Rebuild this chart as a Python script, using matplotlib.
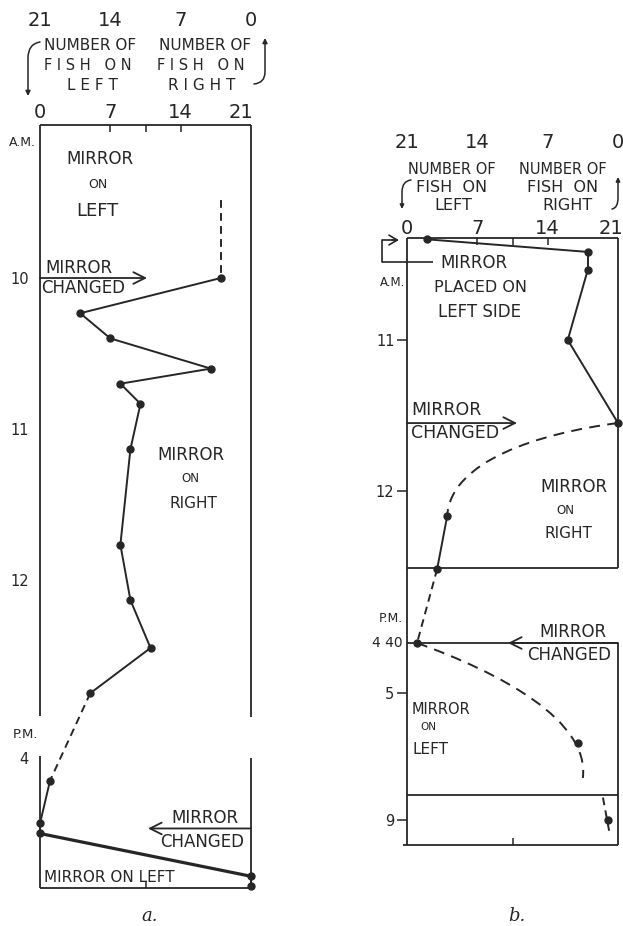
import numpy as np
import matplotlib
matplotlib.use("Agg")
import matplotlib.pyplot as plt
from matplotlib.path import Path
from matplotlib.patches import FancyArrowPatch
from matplotlib.ticker import FixedLocator, NullLocator
from matplotlib.transforms import blended_transform_factory

# ------------------------------------------------------------------ data
# panel a: observation times and number of fish (of 21) on the LEFT side
a_times = ["10:00", "10:14", "10:24", "10:36", "10:42", "10:50", "11:08", "11:46",
           "12:08", "12:27", "12:45", "16:09", "16:26", "16:30", "16:47", "16:51"]
a_fish_left = [18, 4, 7, 17, 8, 10, 9, 8, 9, 11, 5, 1, 0, 0, 21, 21]
# style of the link from each point to the next one
a_links = ["-", "-", "-", "-", "-", "-", "-", "-", "-", "-", "--", "-", "-", "=", "-"]
a_lead_in = ["09:29", "10:00"]          # dashed lead-in above the first point

# panel b
b_times = ["10:20", "10:25", "10:32", "11:00", "11:33", "12:10", "12:31", "16:40", "17:20", "09:00"]
b_day = [0, 0, 0, 0, 0, 0, 0, 0, 0, 1]
b_fish_left = [2, 18, 18, 16, 21, 4, 3, 1, 17, 20]
b_links = ["-", "-", "-", "-", "curve1", "-", "--", "curve2", None]
# hand-drawn guide curves (x = fish on left, y = time)
b_curve1_x = [21, 13.2, 4.3, 4]
b_curve1_t = ["11:33", "11:37", "11:48", "12:10"]
b_curve2_x = [1, 9.3, 18.2, 17.5]
b_curve2_t = ["16:40", "16:52", "17:11", "17:34"]
b_last_x = [19.5, 20.2]
b_last_t = ["08:51", "09:06"]

scale_fish_right = ["21", "14", "7", "0"]
scale_fish_left = ["0", "7", "14", "21"]
a_hour_ticks = ["10:00", "11:00", "12:00", "16:00"]
a_hour_labels = ["10", "11", "12", "4"]
b_hour_ticks = ["11:00", "12:00", "17:00", "09:00"]
b_hour_days = [0, 0, 0, 1]
b_hour_labels = ["11", "12", "5", "9"]


def hrs(s, day=0):
    h, m = s.split(":")
    return int(h) + int(m) / 60.0 + 24 * day


# ------------------------------------------------------------------ figure
W, H = 623, 926
fig = plt.figure(figsize=(W / 100, H / 100), dpi=100)
fig.patch.set_facecolor("white")
INK = "#262626"
plt.rcParams["font.family"] = ["DejaVu Sans"]


def fx(x):
    return x / W


def fy(y):
    return 1 - y / H


def ftext(x, y, s, size, ha="center", va="center", **kw):
    fig.text(fx(x), fy(y), s, fontsize=size, ha=ha, va=va, color=INK, **kw)


def fig_arrow(pts, head="-|>", ms=7, lw=1.1):
    verts = [(fx(x), fy(y)) for x, y in pts]
    codes = [Path.MOVETO, Path.CURVE3, Path.CURVE3] + [Path.LINETO] * (len(pts) - 3)
    p = FancyArrowPatch(path=Path(verts, codes), arrowstyle=head, mutation_scale=ms,
                        lw=lw, color=INK, transform=fig.transFigure)
    fig.add_artist(p)


DASH = (4, 2.7)
LW = 1.4

# ------------------------------------------------------------------ panel a
ax_a = fig.add_axes([fx(40), fy(888), (251 - 40) / W, (888 - 125) / H])
A_T = [8, 13, 16, 18]
A_Y = [-24, 731, 758, 1060]
ax_a.set_yscale("function", functions=(lambda t: np.interp(t, A_T, A_Y),
                                       lambda y: np.interp(y, A_Y, A_T)))
ta_top = float(np.interp(125, A_Y, A_T))
ta_bot = float(np.interp(888, A_Y, A_T))
ax_a.set_xlim(0, 21)
ax_a.set_ylim(ta_bot, ta_top)

# panel b
ax_b = fig.add_axes([fx(407), fy(845), (618 - 407) / W, (845 - 238) / H])
B_T = [9, 12.6, 16.667, 17.6, 32.8, 34]
B_Y = [38, 581.6, 643, 783, 790, 971]
ax_b.set_yscale("function", functions=(lambda t: np.interp(t, B_T, B_Y),
                                       lambda y: np.interp(y, B_Y, B_T)))
tb_top = float(np.interp(238, B_Y, B_T))
tb_bot = float(np.interp(845, B_Y, B_T))
ax_b.set_xlim(0, 21)
ax_b.set_ylim(tb_bot, tb_top)

for ax in (ax_a, ax_b):
    for s in ax.spines.values():
        s.set_visible(False)
    ax.patch.set_alpha(0)
    ax.xaxis.set_major_locator(FixedLocator([7, 14]))
    ax.xaxis.set_minor_locator(FixedLocator([10.5]))
    ax.tick_params(axis="x", which="major", top=True, bottom=False, direction="in",
                   length=5, width=1.1, color=INK, labeltop=False, labelbottom=False)
    ax.tick_params(axis="x", which="minor", top=True, bottom=True, direction="in",
                   length=5, width=1.1, color=INK, labeltop=False, labelbottom=False)
    ax.yaxis.set_minor_locator(NullLocator())


def seg(ax, xs, ts, **kw):
    ax.plot(xs, ts, color=INK, clip_on=False, solid_capstyle="butt", **kw)


# box of panel a (sides broken between noon and 4 p.m.)
bk = dict(lw=1.3)
seg(ax_a, [0, 21], [ta_top, ta_top], **bk)
seg(ax_a, [0, 21], [ta_bot, ta_bot], **bk)
seg(ax_a, [0, 0], [ta_top, 12.90], **bk)
seg(ax_a, [0, 0], [15.78, ta_bot], **bk)
seg(ax_a, [21, 21], [ta_top, 12.91], **bk)
seg(ax_a, [21, 21], [16.0, ta_bot], **bk)

# box of panel b
t_sep1 = 12.51
t_sep2 = hrs("16:40")
t_sep3 = 32.833
seg(ax_b, [0, 21], [tb_top, tb_top], **bk)
seg(ax_b, [-0.4, 21], [tb_bot, tb_bot], **bk)
seg(ax_b, [0, 0], [tb_top, tb_bot], **bk)
seg(ax_b, [21, 21], [tb_top, t_sep1], **bk)
seg(ax_b, [21, 21], [t_sep2, tb_bot], **bk)
seg(ax_b, [0, 21], [t_sep1, t_sep1], **bk)
seg(ax_b, [0, 21], [t_sep2, t_sep2], **bk)
seg(ax_b, [0, 21], [t_sep3, t_sep3], **bk)

# ---------------- data lines panel a
ta = [hrs(s) for s in a_times]
seg(ax_a, [a_fish_left[0]] * 2, [hrs(s) for s in a_lead_in], lw=LW, dashes=DASH)
for i, st in enumerate(a_links):
    xs = [a_fish_left[i], a_fish_left[i + 1]]
    ts = [ta[i], ta[i + 1]]
    if st == "--":
        seg(ax_a, xs, ts, lw=LW, dashes=DASH)
    elif st == "=":
        seg(ax_a, xs, ts, lw=2.3)
    else:
        seg(ax_a, xs, ts, lw=LW)
ax_a.plot(a_fish_left, ta, "o", color=INK, ms=5, clip_on=False, zorder=5)

# ---------------- data lines panel b
tb = [hrs(s, d) for s, d in zip(b_times, b_day)]


def bezier(ax, xs, ts):
    verts = list(zip(xs, ts))
    p = Path(verts, [Path.MOVETO, Path.CURVE4, Path.CURVE4, Path.CURVE4])
    from matplotlib.patches import PathPatch
    pp = PathPatch(p, fill=False, edgecolor=INK, lw=LW, linestyle=(0, (DASH[0] * LW, DASH[1] * LW)),
                   clip_on=False, transform=ax.transData)
    ax.add_patch(pp)


for i, st in enumerate(b_links):
    xs = [b_fish_left[i], b_fish_left[i + 1]]
    ts = [tb[i], tb[i + 1]]
    if st == "-":
        seg(ax_b, xs, ts, lw=LW)
    elif st == "--":
        seg(ax_b, xs, ts, lw=LW, dashes=DASH)
    elif st == "curve1":
        bezier(ax_b, b_curve1_x, [hrs(s) for s in b_curve1_t])
    elif st == "curve2":
        bezier(ax_b, b_curve2_x, [hrs(s) for s in b_curve2_t])
seg(ax_b, b_last_x, [hrs(s, 1) for s in b_last_t], lw=LW, dashes=DASH)
ax_b.plot(b_fish_left, tb, "o", color=INK, ms=5, clip_on=False, zorder=5)

# ---------------- time axes
ax_a.set_yticks([hrs(s) for s in a_hour_ticks])
ax_a.set_yticklabels(a_hour_labels)
ax_a.tick_params(axis="y", length=0, pad=8, labelsize=10.5, labelcolor=INK)
ax_b.set_yticks([hrs(s, d) for s, d in zip(b_hour_ticks, b_hour_days)])
ax_b.set_yticklabels(b_hour_labels)
ax_b.tick_params(axis="y", direction="out", length=7, width=1.1, color=INK,
                 pad=2, labelsize=10.5, labelcolor=INK)

ftext(22, 142, "A.M.", 9)
ftext(25, 734, "P.M.", 9.5)
ftext(393, 282, "A.M.", 8.5)
ftext(391, 619, "P.M.", 9)
ftext(403, 643, "4 40", 10, ha="right")

# ---------------- fish scales
for ax, ytop, ybot, right21 in ((ax_a, 21, 113, 21.25), (ax_b, 143, 228, 21.5)):
    tr = blended_transform_factory(ax.transData, fig.transFigure)
    for lab in scale_fish_right:
        ax.text(21 - int(lab), fy(ytop), lab, transform=tr, ha="center", va="center",
                fontsize=14, color=INK, clip_on=False)
    for lab in scale_fish_left:
        v = int(lab)
        if v == 21:
            ax.text(right21, fy(ybot), lab, transform=tr, ha="right", va="center",
                    fontsize=14, color=INK, clip_on=False)
        else:
            ax.text(v, fy(ybot), lab, transform=tr, ha="center", va="center",
                    fontsize=14, color=INK, clip_on=False)

# headers
ftext(90, 45, "NUMBER OF", 11)
ftext(205, 45, "NUMBER OF", 11)
ftext(88, 65, "F I S H   O N", 10.5)
ftext(201, 65, "F I S H   O N", 10.5)
ftext(92, 85, "L E F T", 11)
ftext(202, 85, "R I G H T", 11)
fig_arrow([(40, 42), (28, 44), (28, 58), (28, 96)])
fig_arrow([(254, 84), (265, 83), (265, 72), (265, 38)])

ftext(452, 170, "NUMBER OF", 10.5)
ftext(563, 170, "NUMBER OF", 10.5)
ftext(452, 188, "FISH  ON", 11.5)
ftext(563, 188, "FISH  ON", 11.5)
ftext(453, 206, "LEFT", 11.5)
ftext(568, 206, "RIGHT", 11.5)
fig_arrow([(411, 180), (402, 181), (402, 192), (402, 209)], ms=6)
fig_arrow([(612, 209), (618, 208), (618, 198), (618, 177)], ms=6)

# ---------------- annotations panel a
ftext(100, 159, "MIRROR", 12)
ftext(98, 185, "ON", 9)
ftext(97, 211, "LEFT", 13)
ftext(45, 268, "MIRROR", 12, ha="left")
ftext(41, 288, "CHANGED", 12, ha="left")
arr = dict(arrowstyle="->,head_length=0.7,head_width=0.35", lw=1.3, color=INK,
           shrinkA=0, shrinkB=0, mutation_scale=12)
ax_a.annotate("", xy=(10.65, hrs("10:00")), xytext=(0, hrs("10:00")),
              arrowprops=arr, annotation_clip=False)
ftext(191, 455, "MIRROR", 12)
ftext(190, 479, "ON", 8.5)
ftext(193, 504, "RIGHT", 11)
ftext(205, 818, "MIRROR", 12)
ftext(202, 842, "CHANGED", 12)
ax_a.annotate("", xy=(10.75, hrs("16:28")), xytext=(21, hrs("16:28")),
              arrowprops=arr, annotation_clip=False)
ftext(44, 877, "MIRROR ON LEFT", 11, ha="left")

# ---------------- annotations panel b
ftext(474, 263, "MIRROR", 12)
ftext(480, 288, "PLACED ON", 11.5)
ftext(480, 312, "LEFT SIDE", 12)
seg(ax_b, [2.6, -2.5, -2.5, -1.2], [10.483, 10.483, 10.338, 10.338], lw=1.2)
ax_b.annotate("", xy=(-0.8, 10.338), xytext=(-1.5, 10.338),
              arrowprops=dict(arrowstyle="->,head_length=0.6,head_width=0.35", lw=1.2,
                              color=INK, shrinkA=0, shrinkB=0, mutation_scale=10),
              annotation_clip=False)
ftext(411, 410, "MIRROR", 12.5, ha="left")
ftext(411, 433, "CHANGED", 12.5, ha="left")
ax_b.annotate("", xy=(10.95, hrs("11:33")), xytext=(0, hrs("11:33")),
              arrowprops=arr, annotation_clip=False)
ftext(574, 487, "MIRROR", 12)
ftext(565, 510, "ON", 8.5)
ftext(568, 533, "RIGHT", 11)
ftext(573, 632, "MIRROR", 12)
ftext(569, 655, "CHANGED", 12)
ax_b.annotate("", xy=(10.05, t_sep2), xytext=(21, t_sep2),
              arrowprops=arr, annotation_clip=False)
ftext(441, 709, "MIRROR", 10.5)
ftext(428, 727, "ON", 7.5)
ftext(431, 750, "LEFT", 11)

# captions
fig.text(fx(150), fy(916), "a.", fontsize=13, style="italic", family="DejaVu Serif",
         ha="center", va="center", color=INK)
fig.text(fx(517), fy(916), "b.", fontsize=13, style="italic", family="DejaVu Serif",
         ha="center", va="center", color=INK)

fig.savefig("out.png", dpi=100, facecolor="white")
